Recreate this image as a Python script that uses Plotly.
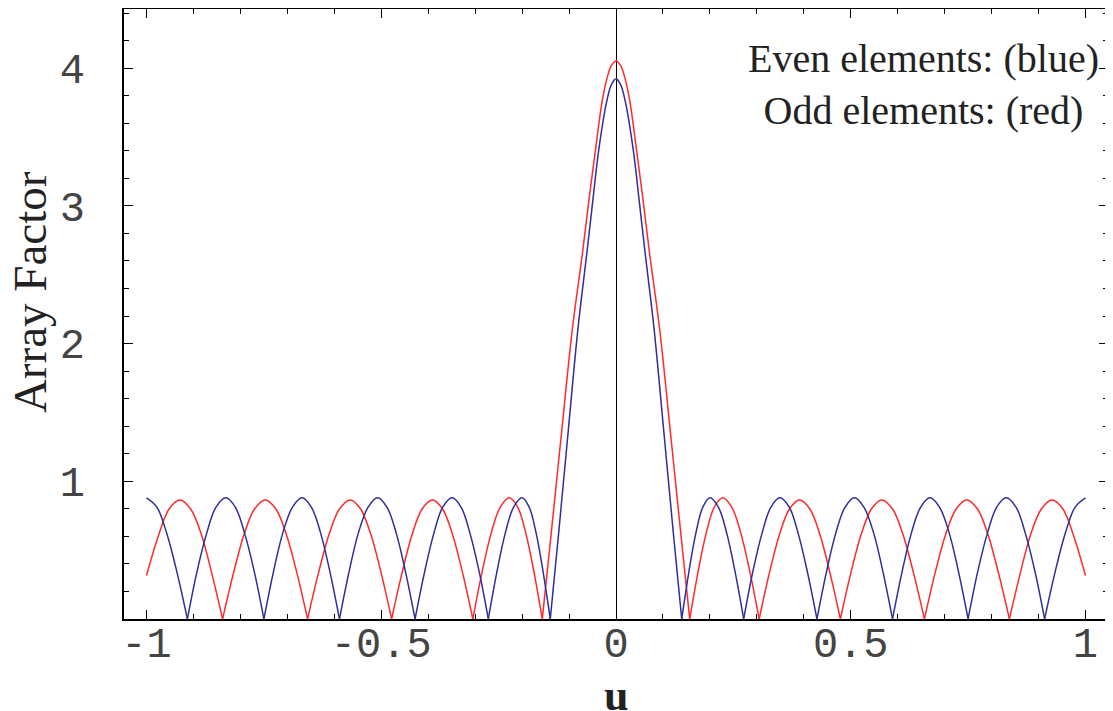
import plotly.graph_objects as go

# ---- data ----
U_EVEN = [
    -1.000, -0.978, -0.957, -0.935,
    -0.913, -0.893, -0.872, -0.852, -0.831, -0.811, -0.791, -0.770,
    -0.750, -0.730, -0.710, -0.689, -0.669, -0.649, -0.629, -0.609,
    -0.589, -0.569, -0.549, -0.528, -0.508, -0.488, -0.468, -0.448,
    -0.428, -0.408, -0.388, -0.369, -0.349, -0.330, -0.311, -0.291,
    -0.272, -0.254, -0.236, -0.218, -0.200, -0.185, -0.170, -0.155,
    -0.140, -0.1217, -0.1016, -0.0813, -0.0613, -0.050, -0.0366, -0.020, -0.010,
    0.000, 0.010, 0.020, 0.0366, 0.050, 0.0613, 0.0813, 0.1016, 0.1217,
    0.140, 0.155, 0.170, 0.185, 0.200, 0.218, 0.236, 0.254,
    0.272, 0.291, 0.311, 0.330, 0.349, 0.369, 0.388, 0.408,
    0.428, 0.448, 0.468, 0.488, 0.508, 0.528, 0.549, 0.569,
    0.589, 0.609, 0.629, 0.649, 0.669, 0.689, 0.710, 0.730,
    0.750, 0.770, 0.791, 0.811, 0.831, 0.852, 0.872, 0.893,
    0.913, 0.935, 0.957, 0.978, 1.000,
]
AF_EVEN = [
    0.880, 0.813, 0.622, 0.337,
    0.000, 0.337, 0.622, 0.813, 0.880, 0.813, 0.622, 0.337,
    0.000, 0.337, 0.622, 0.813, 0.880, 0.813, 0.622, 0.337,
    0.000, 0.337, 0.622, 0.813, 0.880, 0.813, 0.622, 0.337,
    0.000, 0.337, 0.622, 0.813, 0.880, 0.813, 0.622, 0.337,
    0.000, 0.337, 0.622, 0.813, 0.880, 0.813, 0.622, 0.337,
    0.000, 0.640, 1.370, 2.100, 2.680, 3.020, 3.410, 3.755, 3.880,
    3.924, 3.880, 3.755, 3.410, 3.020, 2.680, 2.100, 1.370, 0.640,
    0.000, 0.337, 0.622, 0.813, 0.880, 0.813, 0.622, 0.337,
    0.000, 0.337, 0.622, 0.813, 0.880, 0.813, 0.622, 0.337,
    0.000, 0.337, 0.622, 0.813, 0.880, 0.813, 0.622, 0.337,
    0.000, 0.337, 0.622, 0.813, 0.880, 0.813, 0.622, 0.337,
    0.000, 0.337, 0.622, 0.813, 0.880, 0.813, 0.622, 0.337,
    0.000, 0.337, 0.622, 0.813, 0.880,
]

U_ODD = [
    -1.000, -0.974, -0.952,
    -0.929, -0.906, -0.883, -0.861,
    -0.838, -0.815, -0.7925, -0.770, -0.747, -0.7245, -0.702, -0.6795,
    -0.657, -0.634, -0.6115, -0.589, -0.566, -0.544, -0.522, -0.500,
    -0.478, -0.456, -0.4345, -0.413, -0.391, -0.3695, -0.348, -0.3265,
    -0.305, -0.2855, -0.266, -0.2465, -0.227, -0.2095, -0.192, -0.1745,
    -0.157, -0.1375, -0.1155, -0.0932, -0.0706, -0.057, -0.0436, -0.030, -0.020, -0.010,
    0.000, 0.010, 0.020, 0.030, 0.0436, 0.057, 0.0706, 0.0932, 0.1155, 0.1375,
    0.157, 0.1745, 0.192, 0.2095, 0.227, 0.2465, 0.266, 0.2855,
    0.305, 0.3265, 0.348, 0.3695, 0.391, 0.413, 0.4345, 0.456,
    0.478, 0.500, 0.522, 0.544, 0.566, 0.589, 0.6115, 0.634,
    0.657, 0.6795, 0.702, 0.7245, 0.747, 0.770, 0.7925, 0.815,
    0.838, 0.861, 0.883, 0.906,
    0.929, 0.952, 0.974, 1.000,
]
AF_ODD = [
    0.316, 0.612, 0.799,
    0.865, 0.799, 0.612, 0.331,
    0.000, 0.331, 0.612, 0.799, 0.865, 0.799, 0.612, 0.331,
    0.000, 0.331, 0.612, 0.799, 0.865, 0.799, 0.612, 0.331,
    0.000, 0.331, 0.612, 0.799, 0.865, 0.799, 0.612, 0.331,
    0.000, 0.337, 0.622, 0.813, 0.880, 0.813, 0.622, 0.337,
    0.000, 0.640, 1.370, 2.100, 2.680, 3.060, 3.410, 3.750, 3.915, 4.018,
    4.053, 4.018, 3.915, 3.750, 3.410, 3.060, 2.680, 2.100, 1.370, 0.640,
    0.000, 0.337, 0.622, 0.813, 0.880, 0.813, 0.622, 0.337,
    0.000, 0.331, 0.612, 0.799, 0.865, 0.799, 0.612, 0.331,
    0.000, 0.331, 0.612, 0.799, 0.865, 0.799, 0.612, 0.331,
    0.000, 0.331, 0.612, 0.799, 0.865, 0.799, 0.612, 0.331,
    0.000, 0.331, 0.612, 0.799,
    0.865, 0.799, 0.612, 0.316,
]

X_TICKS = [-1, -0.5, 0, 0.5, 1]
X_TICK_TEXT = ["-1", "-0.5", "0", "0.5", "1"]
Y_TICKS = [1, 2, 3, 4]
Y_TICK_TEXT = ["1", "2", "3", "4"]

assert len(U_EVEN) == len(AF_EVEN)
assert len(U_ODD) == len(AF_ODD)


def split_at_nulls(us, vs):
    """Break the curve at each null so every lobe is its own smooth arc
    while the nulls stay sharp cusps."""
    xs, ys = [], []
    last = len(us) - 1
    for i, (u, v) in enumerate(zip(us, vs)):
        xs.append(u)
        ys.append(v)
        if v == 0 and 0 < i < last:
            xs += [None, u]
            ys += [None, v]
    return xs, ys


xo, yo = split_at_nulls(U_ODD, AF_ODD)
xe, ye = split_at_nulls(U_EVEN, AF_EVEN)

fig = go.Figure()
fig.add_trace(go.Scatter(x=xo, y=yo, mode="lines", connectgaps=False,
                         line=dict(color="#ff2a2a", width=1.5, shape="spline",
                                   smoothing=1.0),
                         showlegend=False))
fig.add_trace(go.Scatter(x=xe, y=ye, mode="lines", connectgaps=False,
                         line=dict(color="#2e2e9c", width=1.5, shape="spline",
                                   smoothing=1.0),
                         showlegend=False))

tickfont = dict(family="Liberation Mono", size=42, color="#444444")

# page body has an 8px default margin, so the figure is shifted by 8px
fig.update_layout(
    width=1113, height=711,
    margin=dict(l=116, r=13, t=1, b=100),
    paper_bgcolor="white", plot_bgcolor="white",
    showlegend=False,
    xaxis=dict(
        range=[-1.048, 1.048], automargin=False,
        tickmode="array", tickvals=X_TICKS, ticktext=X_TICK_TEXT,
        ticks="inside", ticklen=9, tickwidth=1.2, tickcolor="black",
        minor=dict(ticks="inside", ticklen=5, tickwidth=1, tickcolor="black",
                   tick0=0, dtick=0.1),
        showline=True, linecolor="black", linewidth=1.5, mirror="allticks",
        showgrid=False, zeroline=True, zerolinecolor="black", zerolinewidth=1.3,
        tickfont=tickfont, ticklabelstandoff=-14,
    ),
    yaxis=dict(
        range=[0, 4.43], automargin=False,
        tickmode="array", tickvals=Y_TICKS, ticktext=Y_TICK_TEXT,
        ticks="inside", ticklen=9, tickwidth=1.2, tickcolor="black",
        minor=dict(ticks="inside", ticklen=5, tickwidth=1, tickcolor="black",
                   tick0=0, dtick=0.2),
        showline=True, linecolor="black", linewidth=1.5, mirror="allticks",
        showgrid=False, zeroline=False,
        tickfont=tickfont, ticklabelstandoff=29,
    ),
    annotations=[
        dict(text="Array Factor", textangle=-90, xref="paper", yref="paper",
             x=-0.0955, y=0.536, xanchor="center", yanchor="middle",
             showarrow=False,
             font=dict(family="Liberation Serif", size=47, color="#222222")),
        dict(text="<b>u</b>", xref="paper", yref="paper",
             x=0.5, y=-0.125, xanchor="center", yanchor="middle",
             showarrow=False,
             font=dict(family="Liberation Serif", size=44, color="#222222")),
        dict(text="Even elements: (blue)<br>Odd elements: (red)",
             xref="paper", yref="paper", x=0.812, y=0.877,
             xanchor="center", yanchor="middle", align="center",
             showarrow=False,
             font=dict(family="Liberation Serif", size=40, color="#222222")),
    ],
)

fig.write_html("out.html")
